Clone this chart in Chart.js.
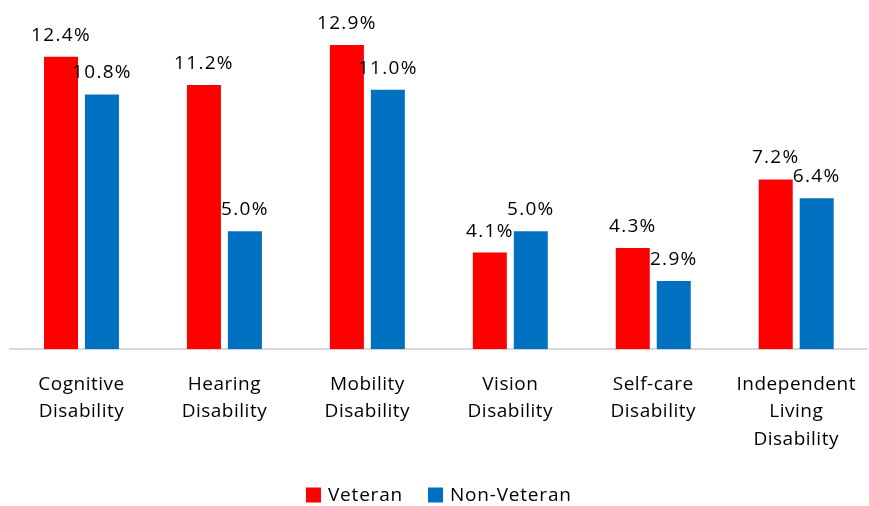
<!DOCTYPE html>
<html>
<head>
<meta charset="utf-8">
<script src="https://cdn.jsdelivr.net/npm/chart.js@4/dist/chart.umd.min.js"></script>
<style>
    html, body { margin: 0; padding: 0; background: #fff; }
    #wrap { width: 869px; height: 506px; }
</style>
</head>
<body>
<div id="wrap"><canvas id="chart"></canvas></div>
<script>
// Chart data
const categories = [
    ['Cognitive', 'Disability'],
    ['Hearing', 'Disability'],
    ['Mobility', 'Disability'],
    ['Vision', 'Disability'],
    ['Self-care', 'Disability'],
    ['Independent', 'Living', 'Disability']
];
const veteranValues = [12.4, 11.2, 12.9, 4.1, 4.3, 7.2];
const nonVeteranValues = [10.8, 5.0, 11.0, 5.0, 2.9, 6.4];
const seriesNames = ['Veteran', 'Non-Veteran'];

const FONT = "'Open Sans', Lato, sans-serif";

// slightly wider text, closer to the original rendering
const spacing = {
    id: 'spacing',
    beforeUpdate(chart) {
        chart.ctx.letterSpacing = '0.5px';
    }
};

// draws the value labels above every bar
const valueLabels = {
    id: 'valueLabels',
    afterDatasetsDraw(chart) {
        const ctx = chart.ctx;
        ctx.save();
        ctx.letterSpacing = '1.3px';
        ctx.font = '19px ' + FONT;
        ctx.fillStyle = '#000';
        ctx.textAlign = 'center';
        ctx.textBaseline = 'bottom';
        chart.data.datasets.forEach((ds, i) => {
            chart.getDatasetMeta(i).data.forEach((bar, j) => {
                ctx.fillText(ds.data[j].toFixed(1) + '%', bar.x, bar.y - 12);
            });
        });
        ctx.restore();
    }
};

// simple legend at the bottom, centred under the plot
const bottomLegend = {
    id: 'bottomLegend',
    afterDraw(chart) {
        const ctx = chart.ctx;
        const box = 15, gap = 7, itemGap = 25;
        const y = 495;
        ctx.save();
        ctx.letterSpacing = '0.8px';
        ctx.font = '19px ' + FONT;
        ctx.textBaseline = 'middle';
        ctx.textAlign = 'left';
        const items = chart.data.datasets.map(ds => ({
            text: ds.label,
            color: ds.backgroundColor,
            w: ctx.measureText(ds.label).width
        }));
        let total = items.reduce((s, it) => s + box + gap + it.w, 0) + itemGap * (items.length - 1);
        let x = (chart.chartArea.left + chart.chartArea.right) / 2 - total / 2;
        items.forEach(it => {
            ctx.fillStyle = it.color;
            ctx.fillRect(x, y - box / 2, box, box);
            ctx.fillStyle = '#000';
            ctx.fillText(it.text, x + box + gap, y + 1);
            x += box + gap + it.w + itemGap;
        });
        ctx.restore();
    }
};

new Chart(document.getElementById('chart'), {
    type: 'bar',
    data: {
        labels: categories,
        datasets: [
            {
                label: seriesNames[0],
                data: veteranValues,
                backgroundColor: '#ff0000',
                categoryPercentage: 0.573,
                barPercentage: 0.83
            },
            {
                label: seriesNames[1],
                data: nonVeteranValues,
                backgroundColor: '#0070c0',
                categoryPercentage: 0.573,
                barPercentage: 0.83
            }
        ]
    },
    options: {
        responsive: true,
        maintainAspectRatio: false,
        animation: false,
        layout: {
            padding: { left: 10, right: 1, top: 19, bottom: 30 }
        },
        plugins: {
            legend: { display: false },
            tooltip: { enabled: false }
        },
        scales: {
            x: {
                grid: { display: false },
                border: { display: true, color: '#d9d9d9', width: 2 },
                ticks: {
                    font: { family: FONT, size: 19, lineHeight: 1.45 },
                    color: '#000',
                    maxRotation: 0,
                    padding: 13
                },
                afterFit(scale) {
                    scale.height += 10;
                }
            },
            y: {
                display: false,
                min: 0,
                max: 14
            }
        }
    },
    plugins: [spacing, valueLabels, bottomLegend]
});
</script>
</body>
</html>
